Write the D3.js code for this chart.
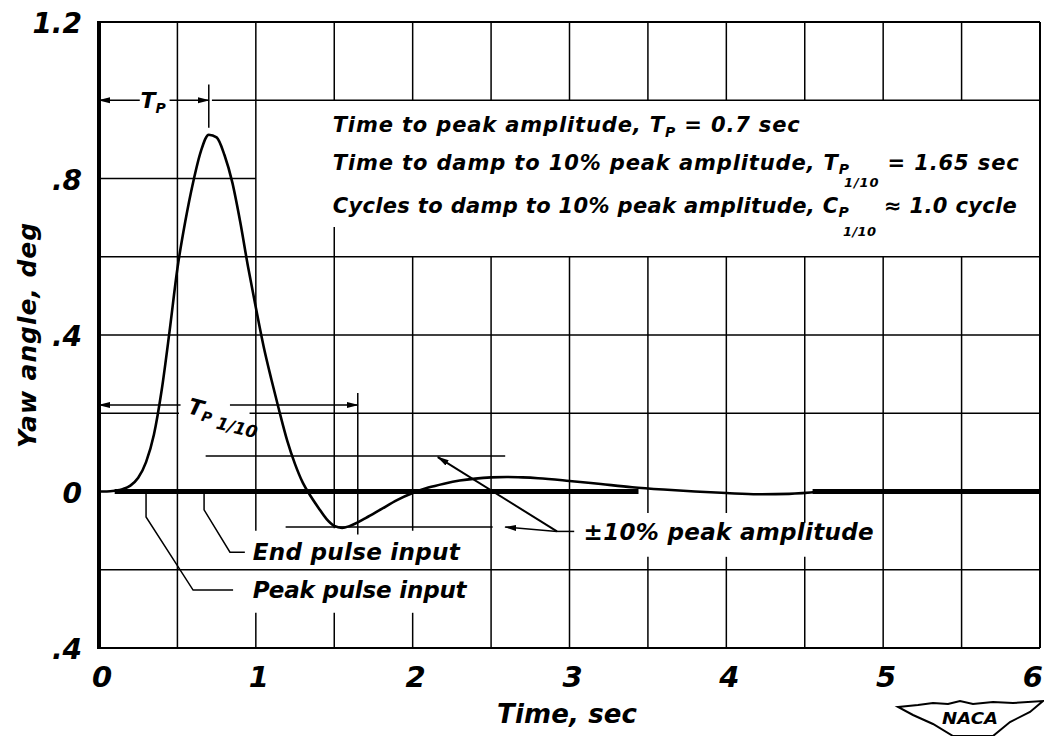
<!DOCTYPE html>
<html>
<head>
<meta charset="utf-8">
<script src="https://cdn.jsdelivr.net/npm/d3@7"></script>
<style>
  html, body { margin: 0; padding: 0; background: #fff; }
  svg { display: block; }
  text { font-family: "DejaVu Sans", sans-serif; font-style: oblique; font-weight: bold; fill: #000; }
</style>
</head>
<body>
<div id="chart"></div>
<script>
////////////////////////////////////////////////////////////////////
////////////////////////////  Data  ////////////////////////////////
// yaw response to a pulse rudder input
const timeSec = [0, 0.05, 0.1, 0.15, 0.2, 0.25, 0.3, 0.35, 0.4, 0.45, 0.5, 0.55, 0.6, 0.65,
  0.7, 0.75, 0.8, 0.85, 0.9, 0.95, 1.0, 1.05, 1.1, 1.15, 1.2, 1.25, 1.3, 1.35, 1.4, 1.45,
  1.5, 1.55, 1.6, 1.7, 1.8, 1.9, 2.0, 2.1, 2.2, 2.3, 2.4, 2.5, 2.6, 2.7, 2.8, 3.0, 3.2,
  3.4, 3.6, 3.8, 4.0, 4.2, 4.4, 4.6];
const yawDeg = [0, 0, 0.002, 0.006, 0.015, 0.035, 0.075, 0.145, 0.26, 0.41, 0.57, 0.69, 0.79, 0.87,
  0.912, 0.905, 0.86, 0.79, 0.69, 0.575, 0.47, 0.37, 0.285, 0.205, 0.13, 0.07, 0.022, -0.012, -0.042, -0.07,
  -0.088, -0.093, -0.088, -0.068, -0.045, -0.022, -0.004, 0.01, 0.02, 0.028, 0.033, 0.036, 0.037, 0.036, 0.034, 0.027, 0.019,
  0.011, 0.005, 0.0, -0.004, -0.007, -0.006, 0];

const peakTime = 0.7;        // T_P
const dampTime = 1.65;       // T_P 1/10
const peakAmp = 0.91;
const pulsePeakTime = 0.3;
const pulseEndTime = 0.67;

// heavy reference line at zero
const zeroSegments = [[0.1, 3.44], [4.55, 6]];

// tick labels
const xTickValues = [0, 1, 2, 3, 4, 5, 6];
const xTickLabels = ["0", "1", "2", "3", "4", "5", "6"];
const yTickValues = [1.2, 0.8, 0.4, 0, -0.4];
const yTickLabels = ["1.2", ".8", ".4", "0", ".4"];

// grid lines, drawn in pieces (gaps left for the lettering)
const vGrid = [
  [0.5, [[1.2, -0.4]]],
  [1.0, [[1.2, -0.1], [-0.31, -0.4]]],
  [1.5, [[1.2, 1.0], [0.676, -0.094], [-0.31, -0.4]]],
  [2.0, [[1.2, 1.0], [0.6, -0.1], [-0.31, -0.4]]],
  [2.5, [[1.2, 1.0], [0.6, -0.4]]],
  [3.0, [[1.2, 1.0], [0.6, -0.4]]],
  [3.5, [[1.2, 1.0], [0.6, -0.055], [-0.167, -0.4]]],
  [4.0, [[1.2, 1.0], [0.6, -0.055], [-0.167, -0.4]]],
  [4.5, [[1.2, 1.0], [0.6, -0.08], [-0.167, -0.4]]],
  [5.0, [[1.2, 1.0], [0.6, -0.4]]],
  [5.5, [[1.2, 1.0], [0.6, -0.4]]]
];
const hGrid = [
  [1.0, [[0.72, 6]]],
  [0.8, [[0, 1.0]]],
  [0.6, [[0, 6]]],
  [0.4, [[0, 6]]],
  [0.2, [[0, 0.51], [0.96, 6]]],
  [-0.2, [[0, 6]]]
];

////////////////////////////////////////////////////////////////////
////////////////////////////  Init  ///////////////////////////////
const width = 1044;
const height = 736;

const svg = d3.select("#chart").append("svg")
  .attr("width", width)
  .attr("height", height);

svg.append("rect").attr("width", width).attr("height", height).attr("fill", "#fff");

const x = d3.scaleLinear().domain([0, 6]).range([99, 1040]);
const y = d3.scaleLinear().domain([-0.4, 1.2]).range([648, 22]);

// arrowhead
svg.append("defs").append("marker")
  .attr("id", "arrow")
  .attr("viewBox", "0 -4 12 8")
  .attr("refX", 11).attr("refY", 0)
  .attr("markerUnits", "userSpaceOnUse")
  .attr("markerWidth", 12).attr("markerHeight", 8)
  .attr("orient", "auto")
  .append("path")
  .attr("d", "M0,-3L12,0L0,3Z")
  .attr("fill", "#000");

const fitText = (sel, w) => {
  const node = sel.node();
  const n = node.getNumberOfChars();
  const len = node.getComputedTextLength();
  sel.attr("letter-spacing", ((w - len) / (n - 1)).toFixed(2));
};

////////////////////////////////////////////////////////////////////
////////////////////////////  Grid  ////////////////////////////////
const grid = svg.append("g").attr("stroke", "#000").attr("stroke-width", 1.5);

vGrid.forEach(([t, segs]) => {
  segs.forEach(([a, b]) => {
    grid.append("line")
      .attr("x1", x(t)).attr("x2", x(t))
      .attr("y1", y(a)).attr("y2", y(b));
  });
});
hGrid.forEach(([v, segs]) => {
  segs.forEach(([a, b]) => {
    grid.append("line")
      .attr("x1", x(a)).attr("x2", x(b))
      .attr("y1", y(v)).attr("y2", y(v));
  });
});

// frame
svg.append("line").attr("x1", x(0)).attr("x2", x(6)).attr("y1", y(1.2)).attr("y2", y(1.2))
  .attr("stroke", "#000").attr("stroke-width", 2);
svg.append("line").attr("x1", x(0)).attr("x2", x(6)).attr("y1", y(-0.4)).attr("y2", y(-0.4))
  .attr("stroke", "#000").attr("stroke-width", 2);
svg.append("line").attr("x1", x(6)).attr("x2", x(6)).attr("y1", y(1.2)).attr("y2", y(-0.4))
  .attr("stroke", "#000").attr("stroke-width", 2);
svg.append("line").attr("x1", x(0)).attr("x2", x(0)).attr("y1", y(1.2) - 1).attr("y2", y(-0.4) + 1)
  .attr("stroke", "#000").attr("stroke-width", 4);

// heavy zero line
svg.selectAll(".zero")
  .data(zeroSegments)
  .enter()
  .append("line")
  .attr("class", "zero")
  .attr("x1", (d) => x(d[0])).attr("x2", (d) => x(d[1]))
  .attr("y1", y(0)).attr("y2", y(0))
  .attr("stroke", "#000").attr("stroke-width", 5);

////////////////////////////////////////////////////////////////////
////////////////////////////  Curve  ///////////////////////////////
const line = d3.line()
  .curve(d3.curveMonotoneX)
  .x((d, i) => x(timeSec[i]))
  .y((d) => y(d));

svg.append("path")
  .datum(yawDeg)
  .attr("d", line)
  .attr("fill", "none")
  .attr("stroke", "#000")
  .attr("stroke-width", 2.6);

////////////////////////////////////////////////////////////////////
////////////////////////////  Axes  ////////////////////////////////
svg.selectAll(".ytick")
  .data(yTickValues)
  .enter()
  .append("text")
  .attr("class", "ytick")
  .attr("x", 82)
  .attr("y", (d) => y(d) + 11)
  .attr("text-anchor", "end")
  .attr("font-size", 28)
  .attr("font-weight", "normal")
  .text((d, i) => yTickLabels[i]);

svg.selectAll(".xtick")
  .data(xTickValues)
  .enter()
  .append("text")
  .attr("class", "xtick")
  .attr("x", (d, i) => (i === xTickValues.length - 1 ? 1043 : x(d) + 3))
  .attr("y", 687)
  .attr("text-anchor", (d, i) => (i === xTickValues.length - 1 ? "end" : "middle"))
  .attr("font-size", 29)
  .attr("font-weight", "normal")
  .text((d, i) => xTickLabels[i]);

const xTitle = svg.append("text")
  .attr("x", 497).attr("y", 723)
  .attr("font-size", 26)
  .text("Time, sec");
fitText(xTitle, 140);

const yTitle = svg.append("text")
  .attr("transform", "translate(36, 448) rotate(-90)")
  .attr("font-size", 25)
  .text("Yaw angle, deg");
fitText(yTitle, 225);

////////////////////////////////////////////////////////////////////
////////////////////////////  Annotations  /////////////////////////
const ann = svg.append("g").attr("stroke", "#000").attr("stroke-width", 1.5).attr("fill", "none");

// T_P arrows along the 1.0 line
ann.append("line").attr("x1", x(0.26)).attr("x2", x(0)).attr("y1", y(1.0)).attr("y2", y(1.0))
  .attr("marker-end", "url(#arrow)");
ann.append("line").attr("x1", x(0.45)).attr("x2", x(peakTime)).attr("y1", y(1.0)).attr("y2", y(1.0))
  .attr("marker-end", "url(#arrow)");
ann.append("line").attr("x1", x(peakTime)).attr("x2", x(peakTime)).attr("y1", y(1.04)).attr("y2", y(0.93));

const tp = svg.append("text").attr("x", x(0.265)).attr("y", y(1.0) + 8).attr("font-size", 22).text("T");
tp.append("tspan").attr("font-size", 14).attr("dy", 5).text("P");

// T_P 1/10 arrows
ann.append("line").attr("x1", x(0.52)).attr("x2", x(0)).attr("y1", y(0.221)).attr("y2", y(0.221))
  .attr("marker-end", "url(#arrow)");
ann.append("line").attr("x1", x(0.835)).attr("x2", x(dampTime)).attr("y1", y(0.221)).attr("y2", y(0.221))
  .attr("marker-end", "url(#arrow)");
ann.append("line").attr("x1", x(dampTime)).attr("x2", x(dampTime)).attr("y1", y(0.252)).attr("y2", y(-0.11));

const tp10 = svg.append("text")
  .attr("transform", `translate(${x(0.56)}, ${y(0.221) + 8}) rotate(14)`)
  .attr("font-size", 22).text("T");
tp10.append("tspan").attr("font-size", 14).attr("dy", 4).text("P");
tp10.append("tspan").attr("font-size", 17).attr("dx", 6).attr("dy", 4).text("1/10");

// +/- 10% peak amplitude lines
ann.append("line").attr("x1", x(0.68)).attr("x2", x(2.59))
  .attr("y1", y(peakAmp * 0.1)).attr("y2", y(peakAmp * 0.1));
ann.append("line").attr("x1", x(1.19)).attr("x2", x(2.51))
  .attr("y1", y(-peakAmp * 0.1)).attr("y2", y(-peakAmp * 0.1));
ann.append("line").attr("x1", x(2.92)).attr("x2", x(2.59))
  .attr("y1", y(-0.102)).attr("y2", y(-peakAmp * 0.1))
  .attr("marker-end", "url(#arrow)");
ann.append("line").attr("x1", x(2.92)).attr("x2", x(2.16))
  .attr("y1", y(-0.102)).attr("y2", y(0.088))
  .attr("stroke-width", 2)
  .attr("marker-end", "url(#arrow)");
ann.append("line").attr("x1", x(2.92)).attr("x2", x(3.03))
  .attr("y1", y(-0.102)).attr("y2", y(-0.102));

const pm = svg.append("text").attr("x", x(3.09)).attr("y", y(-0.125)).attr("font-size", 23)
  .text("\u00b110% peak amplitude");
fitText(pm, 290);

// pulse input leaders
ann.append("path")
  .attr("d", d3.line()([[x(pulseEndTime), y(-0.005)], [x(pulseEndTime), y(-0.047)],
    [x(0.835), y(-0.155)], [x(0.93), y(-0.155)]]));
ann.append("path")
  .attr("d", d3.line()([[x(pulsePeakTime), y(-0.005)], [x(pulsePeakTime), y(-0.065)],
    [x(0.6), y(-0.252)], [x(0.855), y(-0.252)]]));

const endTxt = svg.append("text").attr("x", x(0.98)).attr("y", y(-0.175)).attr("font-size", 23)
  .text("End pulse input");
fitText(endTxt, 207);
const peakTxt = svg.append("text").attr("x", x(0.98)).attr("y", y(-0.272)).attr("font-size", 23)
  .text("Peak pulse input");
fitText(peakTxt, 214);

// summary text block
const boxX = x(1.49);
const l1 = svg.append("text").attr("x", boxX).attr("y", 132).attr("font-size", 21)
  .text("Time to peak amplitude, T");
l1.append("tspan").attr("font-size", 14).attr("dy", 5).text("P");
l1.append("tspan").attr("dy", -5).text(" = 0.7 sec");
fitText(l1, 467);

const l2 = svg.append("text").attr("x", boxX).attr("y", 170).attr("font-size", 21)
  .text("Time to damp to 10% peak amplitude, T");
l2.append("tspan").attr("font-size", 14).attr("dy", 4).text("P");
l2.append("tspan").attr("font-size", 13).attr("dx", -6).attr("dy", 13).text("1/10");
l2.append("tspan").attr("dy", -17).text(" = 1.65 sec");
fitText(l2, 692);

const l3 = svg.append("text").attr("x", boxX).attr("y", 213).attr("font-size", 21)
  .text("Cycles to damp to 10% peak amplitude, C");
l3.append("tspan").attr("font-size", 14).attr("dy", 4).text("P");
l3.append("tspan").attr("font-size", 13).attr("dx", -6).attr("dy", 19).text("1/10");
l3.append("tspan").attr("dy", -23).text(" \u2248 1.0 cycle");
fitText(l3, 690);

////////////////////////////////////////////////////////////////////
////////////////////////////  NACA mark  ///////////////////////////
const logo = svg.append("g").attr("transform", "translate(898, 700)");
logo.append("path")
  .attr("d", "M0,7 L20,5 L35,3 L50,4 L62,1 L75,4 L95,2 L115,3 L145,1 L132,12 L112,22 L95,36 L55,36 L35,24 L15,15 Z")
  .attr("fill", "#fff").attr("stroke", "#000").attr("stroke-width", 2);
logo.append("text")
  .attr("x", 72).attr("y", 24)
  .attr("text-anchor", "middle")
  .attr("font-size", 15)
  .attr("font-style", "normal")
  .attr("textLength", 56)
  .attr("lengthAdjust", "spacingAndGlyphs")
  .text("NACA");
</script>
</body>
</html>
